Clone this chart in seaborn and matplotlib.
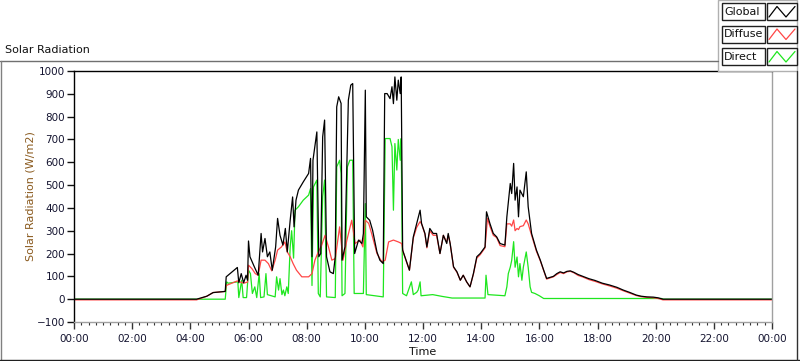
import numpy as np
import matplotlib
matplotlib.use("Agg")
import matplotlib.pyplot as plt
from matplotlib.lines import Line2D
from matplotlib.patches import Rectangle
import seaborn as sns

# Readings per series: minute of day -> W/m2
global_min = [0, 253, 274, 287, 312, 314, 337, 340, 345, 350,
              355, 358, 360, 363, 372, 380, 386, 389, 394, 399,
              404, 409, 416, 420, 425, 431, 436, 440, 446, 451,
              454, 458, 463, 473, 484, 488, 491, 493, 501, 505,
              509, 513, 517, 521, 528, 535, 539, 542, 546, 551,
              553, 559, 566, 571, 575, 579, 587, 594, 597, 601,
              603, 610, 616, 625, 631, 638, 641, 646, 652, 656,
              659, 662, 666, 669, 673, 675, 678, 685, 692, 700,
              707, 714, 717, 724, 728, 734, 741, 748, 755, 762,
              769, 772, 776, 783, 790, 797, 803, 810, 817, 824,
              831, 838, 848, 851, 858, 865, 872, 879, 889, 893,
              900, 903, 907, 910, 914, 917, 920, 927, 933, 937,
              944, 954, 962, 969, 975, 989, 996, 1003, 1010, 1017,
              1024, 1031, 1040, 1050, 1062, 1075, 1090, 1105, 1120, 1133,
              1146, 1160, 1170, 1182, 1195, 1205, 1215, 1440]
global_val = [0, 0, 13, 29, 34, 98, 139, 72, 112, 72,
              105, 83, 255, 186, 142, 105, 288, 207, 266, 186,
              207, 127, 229, 354, 280, 237, 310, 207, 346, 448,
              317, 434, 478, 514, 551, 617, 186, 609, 733, 186,
              200, 711, 785, 186, 120, 112, 186, 843, 887, 858,
              171, 229, 872, 938, 945, 200, 259, 244, 288, 916,
              361, 346, 302, 207, 171, 156, 901, 901, 879, 931,
              857, 974, 872, 960, 901, 974, 215, 171, 127, 273,
              332, 390, 332, 288, 229, 310, 288, 288, 200, 280,
              244, 288, 244, 142, 120, 83, 105, 76, 54, 112,
              186, 200, 229, 383, 332, 288, 273, 244, 237, 361,
              507, 463, 595, 434, 492, 361, 478, 449, 558, 405,
              288, 215, 171, 127, 91, 100, 112, 120, 115, 122,
              124, 118, 108, 100, 90, 82, 70, 62, 52, 40,
              30, 18, 13, 10, 9, 6, 0, 0]

diffuse_min = [0, 253, 274, 287, 312, 314, 337, 350, 358, 360,
               367, 374, 380, 386, 394, 401, 408, 415, 420, 428,
               435, 440, 446, 452, 459, 470, 484, 491, 497, 504,
               511, 518, 525, 532, 539, 548, 555, 563, 573, 580,
               590, 596, 601, 608, 614, 625, 635, 642, 649, 659,
               669, 676, 679, 692, 700, 707, 714, 717, 724, 728,
               734, 741, 748, 755, 762, 769, 772, 776, 783, 790,
               797, 803, 810, 817, 824, 831, 838, 848, 853, 858,
               865, 872, 879, 889, 893, 900, 903, 907, 910, 914,
               917, 920, 927, 933, 937, 944, 954, 962, 969, 975,
               989, 996, 1003, 1010, 1017, 1024, 1031, 1040, 1050, 1062,
               1075, 1090, 1105, 1120, 1133, 1146, 1160, 1170, 1182, 1195,
               1205, 1215, 1440]
diffuse_val = [-3, -3, 13, 29, 34, 60, 80, 70, 75, 149,
               134, 112, 105, 171, 171, 156, 124, 171, 215, 229,
               251, 207, 186, 156, 127, 98, 98, 112, 171, 207,
               237, 280, 229, 171, 178, 317, 171, 259, 346, 244,
               259, 229, 346, 332, 288, 200, 164, 171, 251, 259,
               251, 244, 207, 127, 268, 315, 340, 330, 285, 225,
               300, 280, 280, 200, 280, 250, 280, 244, 140, 118,
               83, 105, 76, 54, 110, 180, 195, 225, 354, 320,
               280, 270, 235, 230, 330, 330, 320, 347, 300, 310,
               305, 318, 322, 347, 330, 280, 210, 168, 125, 88,
               98, 108, 117, 112, 120, 122, 116, 104, 97, 86,
               78, 67, 58, 48, 37, 27, 16, 11, 8, 6,
               3, -3, -3]

direct_min = [0, 312, 315, 318, 338, 340, 346, 349, 356, 360,
              364, 368, 373, 377, 382, 385, 392, 396, 399, 415,
              418, 422, 425, 429, 432, 435, 439, 442, 446, 449,
              453, 456, 463, 473, 484, 488, 491, 494, 501, 504,
              508, 513, 517, 521, 539, 542, 548, 551, 553, 559,
              564, 569, 575, 578, 597, 601, 603, 638, 642, 652,
              656, 659, 662, 666, 669, 673, 675, 678, 686, 696,
              700, 707, 710, 714, 716, 740, 760, 780, 848, 850,
              854, 889, 893, 896, 900, 903, 907, 910, 914, 917,
              920, 924, 927, 933, 937, 941, 944, 951, 960, 969,
              1212, 1216, 1440]
direct_val = [0, 0, 76, 70, 76, 7, 83, 7, 7, 127,
              112, 25, 54, 7, 112, 7, 10, 112, 20, 10,
              98, 40, 90, 20, 40, 15, 54, 25, 229, 300,
              180, 390, 405, 434, 456, 485, 60, 492, 522, 25,
              10, 450, 522, 10, 7, 580, 609, 551, 15, 25,
              580, 609, 609, 25, 25, 419, 20, 10, 704, 704,
              668, 390, 682, 566, 700, 609, 704, 25, 15, 76,
              20, 30, 40, 76, 15, 20, 12, 5, 5, 105,
              20, 15, 54, 112, 140, 170, 252, 140, 185, 98,
              156, 83, 140, 207, 140, 54, 30, 25, 15, 3,
              3, 0, 0]

series_names = ["Global", "Diffuse", "Direct"]
series_colors = {"Global": "#000000", "Diffuse": "#ff4646", "Direct": "#1ee61e"}

sns.set_theme(style="white")
plt.rcParams['font.family'] = ['DejaVu Sans']

fig = plt.figure(figsize=(8, 3.61), dpi=100)
ax = fig.add_axes([74 / 800, 1 - 322 / 361, 698 / 800, 251 / 361])
ax.set_facecolor("white")

# draw order: direct under, then diffuse, global on top
for name, tm, val in [("Direct", direct_min, direct_val),
                      ("Diffuse", diffuse_min, diffuse_val),
                      ("Global", global_min, global_val)]:
    sns.lineplot(x=np.array(tm) / 60.0, y=val, ax=ax, color=series_colors[name],
                 linewidth=0.9, estimator=None, sort=False)

ax.set_xlim(0, 24)
ax.set_ylim(-100, 1000)
ax.set_xticks(np.arange(0, 25, 2))
ax.set_xticklabels([f"{h % 24:02d}:00" for h in range(0, 25, 2)])
ax.set_xticks(np.arange(0, 24.01, 0.25), minor=True)
ax.set_yticks(np.arange(-100, 1001, 100))

tick_col = "#141430"
ax.tick_params(axis='x', which='major', length=5, width=1, color='#333333',
               direction='out', pad=4, labelsize=7.5, labelcolor=tick_col, bottom=True)
ax.tick_params(axis='x', which='minor', length=2.5, width=0.8, color='#333333',
               direction='out', bottom=True)
ax.tick_params(axis='y', which='major', length=5, width=1, color='#111111',
               direction='out', pad=1.5, labelsize=7.5, labelcolor=tick_col, left=True)

for side, col in [("top", "black"), ("left", "black"),
                  ("bottom", "#a0a0a0"), ("right", "#a0a0a0")]:
    ax.spines[side].set_visible(True)
    ax.spines[side].set_color(col)
    ax.spines[side].set_linewidth(1)

ax.set_xlabel("Time", fontsize=8, color="#111111", labelpad=2)
ax.set_ylabel("Solar Radiation (W/m2)", fontsize=8, color="#8a5a1e", labelpad=1)

# outer panel frame
fig.add_artist(Line2D([0.0, 718 / 800], [1 - 61 / 361] * 2, color="#707070", lw=1))
fig.add_artist(Line2D([1 / 800] * 2, [1 - 61 / 361, 0.002], color="#808080", lw=1))
fig.add_artist(Line2D([0.0, 1.0], [0.002] * 2, color="#202020", lw=1))
fig.add_artist(Line2D([797 / 800] * 2, [0.002, 1 - 71 / 361], color="#303030", lw=1))
fig.text(5 / 800, 1 - 50 / 361, "Solar Radiation", fontsize=8, color="#111111",
         ha="left", va="center")

# legend panel
fig.add_artist(Rectangle((718 / 800, 1 - 71 / 361), 79 / 800, 71 / 361,
                         facecolor="white", edgecolor="#b0b0b0", lw=1))
rows = [(3.5, 20), (26, 42.5), (48.5, 65)]
for name, (y0, y1) in zip(series_names, rows):
    fb, ft = 1 - y1 / 361, 1 - y0 / 361
    fig.add_artist(Rectangle((721.5 / 800, fb), 43.5 / 800, ft - fb,
                             facecolor="white", edgecolor="#202020", lw=1))
    fig.text(724 / 800, (fb + ft) / 2, name, fontsize=8, color="#111111",
             ha="left", va="center")
    fig.add_artist(Rectangle((767 / 800, fb), 30 / 800, ft - fb,
                             facecolor="white", edgecolor="#202020", lw=1))
    zx = np.array([769, 777, 786, 795]) / 800
    zy = np.array([y1 - 3, y0 + 3, y1 - 3, y0 + 3])
    fig.add_artist(Line2D(zx, 1 - zy / 361, color=series_colors[name], lw=0.9))

fig.savefig("out.png", dpi=100)
plt.close(fig)
